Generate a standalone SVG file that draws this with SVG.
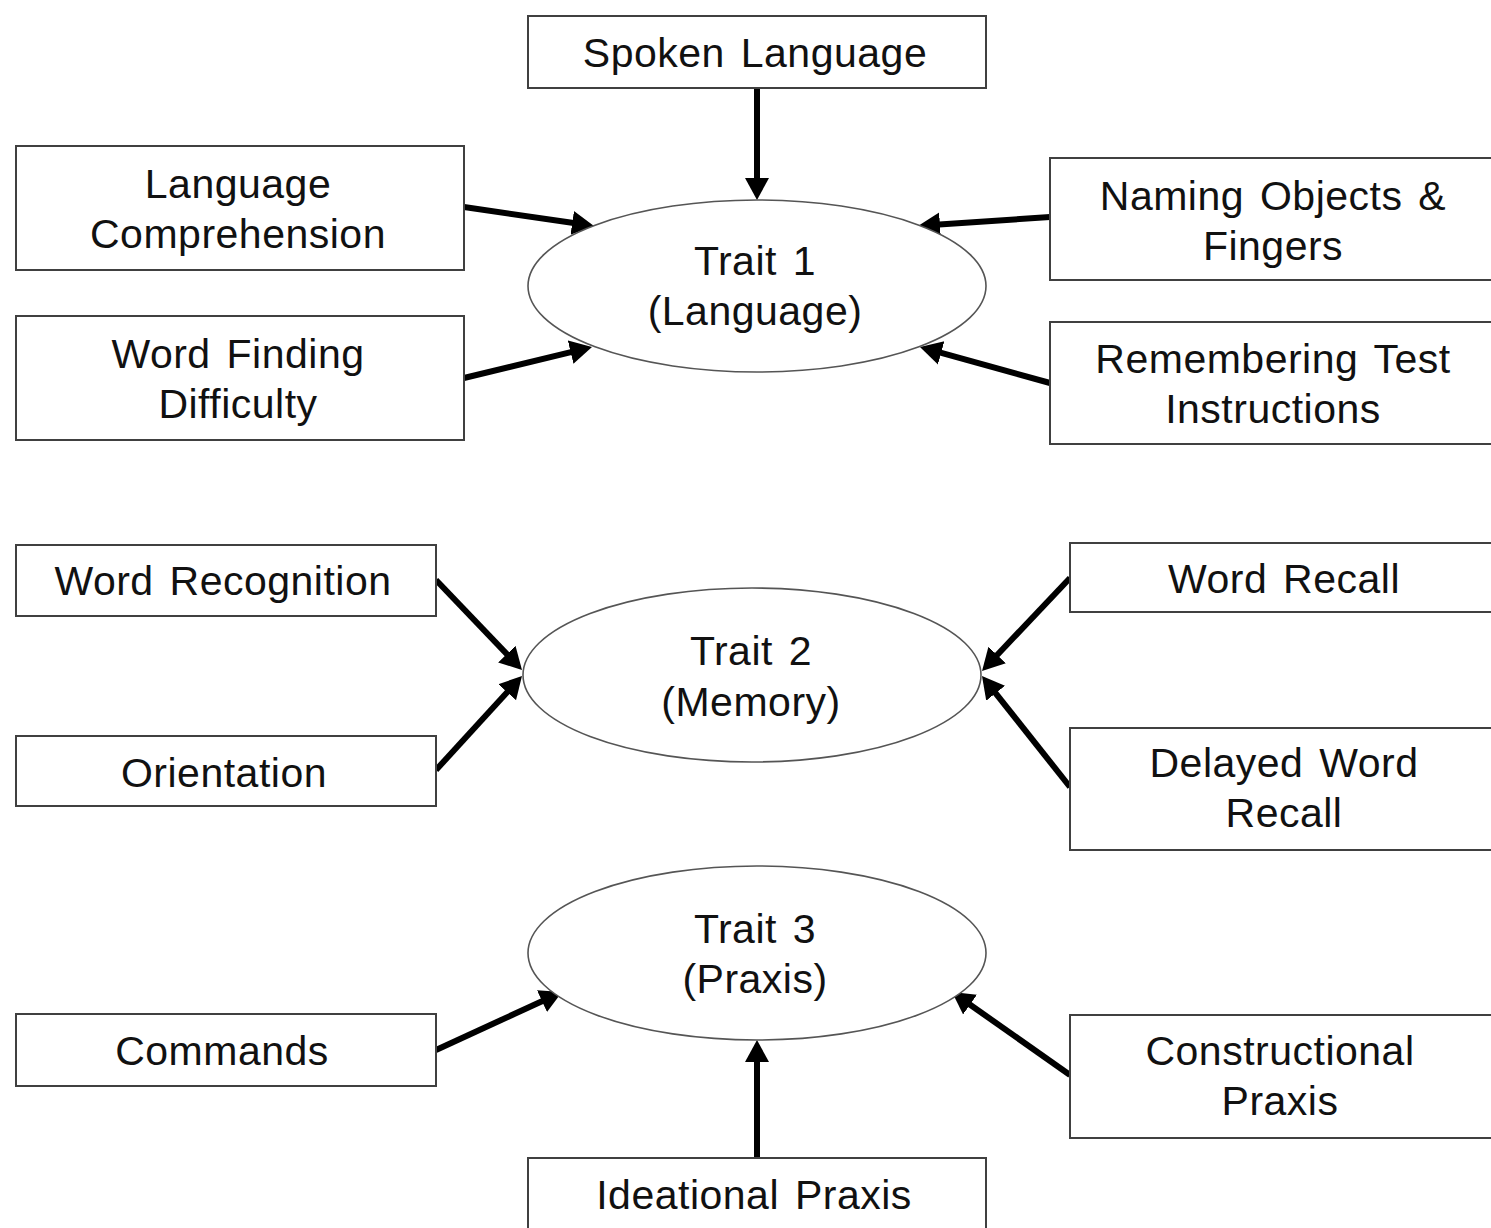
<svg xmlns="http://www.w3.org/2000/svg" width="1491" height="1228" viewBox="0 0 1491 1228">
<style>
.box{fill:#fff;stroke:#404040;stroke-width:2}
.ell{fill:#fff;stroke:#555;stroke-width:1.6}
.t{font-family:"Liberation Sans",Arial,sans-serif;font-size:41px;fill:#111;text-anchor:middle;letter-spacing:0.5px;word-spacing:4px}
.c{stroke:#000;stroke-width:6;fill:none;marker-end:url(#ah)}
</style>
<defs>
<marker id="ah" markerUnits="userSpaceOnUse" markerWidth="24" markerHeight="26" viewBox="0 -13 24 26" refX="12" refY="0" orient="auto">
<path d="M0,-12 L22,0 L0,12 z" fill="#000"/>
</marker>
</defs>
<rect width="1491" height="1228" fill="#fff"/>
<g id="connectors">
<line class="c" x1="757" y1="88" x2="757" y2="190"/>
<line class="c" x1="464" y1="207" x2="584.1" y2="224.55"/>
<line class="c" x1="464" y1="378" x2="582.3" y2="349.35"/>
<line class="c" x1="1050" y1="217" x2="927.98" y2="225.32"/>
<line class="c" x1="1050" y1="383" x2="929.6" y2="349.67"/>
<line class="c" x1="436" y1="580" x2="515.1" y2="662.8"/>
<line class="c" x1="436" y1="770" x2="515.25" y2="683.4"/>
<line class="c" x1="1070" y1="578" x2="988.9" y2="663.7"/>
<line class="c" x1="1070" y1="787" x2="988.2" y2="683.8"/>
<line class="c" x1="436" y1="1050" x2="552.9" y2="996.2"/>
<line class="c" x1="1070" y1="1075" x2="960.2" y2="997.75"/>
<line class="c" x1="757" y1="1158" x2="757" y2="1050"/>
</g>
<g id="trait1"><ellipse class="ell" cx="757" cy="286" rx="229" ry="86"/><text class="t" x="755" y="275">Trait 1</text><text class="t" x="755" y="325">(Language)</text></g>
<g id="trait2"><ellipse class="ell" cx="752" cy="675" rx="229" ry="87"/><text class="t" x="751" y="665">Trait 2</text><text class="t" x="751" y="716">(Memory)</text></g>
<g id="trait3"><ellipse class="ell" cx="757" cy="953" rx="229" ry="87"/><text class="t" x="755" y="943">Trait 3</text><text class="t" x="755" y="993">(Praxis)</text></g>
<g id="spoken"><rect class="box" x="528" y="16" width="458" height="72"/><text class="t" x="755" y="67">Spoken Language</text></g>
<g id="langcomp"><rect class="box" x="16" y="146" width="448" height="124"/><text class="t" x="238" y="198">Language</text><text class="t" x="238" y="248">Comprehension</text></g>
<g id="wordfinding"><rect class="box" x="16" y="316" width="448" height="124"/><text class="t" x="238" y="368">Word Finding</text><text class="t" x="238" y="418">Difficulty</text></g>
<g id="naming"><rect class="box" x="1050" y="158" width="460" height="122"/><text class="t" x="1273" y="210">Naming Objects &amp;</text><text class="t" x="1273" y="260">Fingers</text></g>
<g id="remembering"><rect class="box" x="1050" y="322" width="460" height="122"/><text class="t" x="1273" y="373">Remembering Test</text><text class="t" x="1273" y="423">Instructions</text></g>
<g id="wordrecog"><rect class="box" x="16" y="545" width="420" height="71"/><text class="t" x="223" y="595">Word Recognition</text></g>
<g id="orientation"><rect class="box" x="16" y="736" width="420" height="70"/><text class="t" x="224" y="787">Orientation</text></g>
<g id="wordrecall"><rect class="box" x="1070" y="543" width="440" height="69"/><text class="t" x="1284" y="593">Word Recall</text></g>
<g id="delayed"><rect class="box" x="1070" y="728" width="440" height="122"/><text class="t" x="1284" y="777">Delayed Word</text><text class="t" x="1284" y="827">Recall</text></g>
<g id="commands"><rect class="box" x="16" y="1014" width="420" height="72"/><text class="t" x="222" y="1065">Commands</text></g>
<g id="constructional"><rect class="box" x="1070" y="1015" width="440" height="123"/><text class="t" x="1280" y="1065">Constructional</text><text class="t" x="1280" y="1115">Praxis</text></g>
<g id="ideational"><rect class="box" x="528" y="1158" width="458" height="90"/><text class="t" x="754" y="1209">Ideational Praxis</text></g>
</svg>
